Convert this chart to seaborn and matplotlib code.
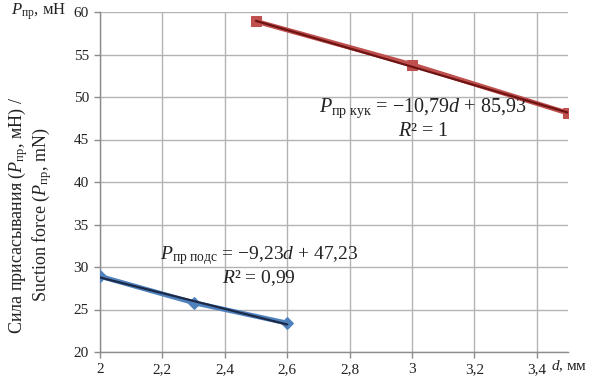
import matplotlib
matplotlib.use("Agg")
import matplotlib.pyplot as plt
import seaborn as sns
import numpy as np
import pandas as pd
from matplotlib.ticker import FuncFormatter

# data
d_pods = [2.0, 2.3, 2.6]
p_pods = [28.9, 25.8, 23.4]
d_kuk = [2.5, 3.0, 3.5]
p_kuk = [58.9, 53.8, 48.1]
trend_pods = (-9.23, 47.23)
trend_kuk = (-10.79, 85.93)
x_ticks = [2.0, 2.2, 2.4, 2.6, 2.8, 3.0, 3.2, 3.4]
y_ticks = [20, 25, 30, 35, 40, 45, 50, 55, 60]

sns.set_theme(style="white")
plt.rcParams['font.family'] = ['Liberation Serif', 'DejaVu Serif']
plt.rcParams['mathtext.fontset'] = 'custom'
plt.rcParams['mathtext.rm'] = 'Liberation Serif'
plt.rcParams['mathtext.it'] = 'Liberation Serif:italic'

fig = plt.figure(figsize=(6.06, 3.8), dpi=100)
ax = fig.add_axes([100/606, 1-352/380, 468/606, 340/380])

df1 = pd.DataFrame({"d": d_pods, "p": p_pods})
df2 = pd.DataFrame({"d": d_kuk, "p": p_kuk})

sns.lineplot(data=df1, x="d", y="p", ax=ax, color="#4F81BD", marker="D",
             markersize=6, markeredgecolor="#4F81BD", linewidth=3.5, zorder=3)
sns.lineplot(data=df2, x="d", y="p", ax=ax, color="#C0504D", marker="s",
             markersize=7, markeredgecolor="#C0504D", linewidth=3.5, zorder=3)

# trend lines
xt1 = np.array([d_pods[0], d_pods[-1]])
ax.plot(xt1, trend_pods[0]*xt1 + trend_pods[1], color="#1c2a48", lw=1.6, zorder=4)
xt2 = np.array([d_kuk[0], d_kuk[-1]])
ax.plot(xt2, trend_kuk[0]*xt2 + trend_kuk[1], color="#6e1414", lw=1.6, zorder=4)

ax.set_xlim(2.0, 3.5)
ax.set_ylim(20, 60)
ax.set_xticks(x_ticks)
ax.set_yticks(y_ticks)
ax.xaxis.set_major_formatter(FuncFormatter(lambda v, p: ("%g" % round(v, 2)).replace(".", ",")))
ax.yaxis.set_major_formatter(FuncFormatter(lambda v, p: "%d" % v))
ax.grid(True, color="#b3b3b3", lw=1.0)
ax.set_axisbelow(True)
for s in ["top", "right"]:
    ax.spines[s].set_visible(False)
for s in ["left", "bottom"]:
    ax.spines[s].set_color("#8c8c8c")
    ax.spines[s].set_linewidth(1.0)
ax.tick_params(axis="both", which="major", length=4, width=1, color="#8c8c8c",
               labelsize=11, labelcolor="#222222", pad=4, direction="out",
               bottom=True, left=True)
ax.set_xlabel("")
ax.set_ylabel("")

# axis name labels
fig.text(66/606, 1-12/380, r"$\mathit{P}_{\mathrm{пр}}$, мН", ha="right", va="center",
         fontsize=12, color="#222222")
fig.text(551/606, 1-366/380, r"$\mathit{d}$, мм", ha="left", va="center",
         fontsize=11, color="#222222")
fig.text(30/606, 1-215/380,
         "Сила присасывания ($\\mathit{P}_{\\mathrm{пр}}$, мН) /\nSuction force ($\\mathit{P}_{\\mathrm{пр}}$, mN)",
         rotation=90, ha="center", va="center", multialignment="center",
         fontsize=13, color="#222222", linespacing=1.0)

# equations
ax.text(3.035, 48.7, r"$\mathit{P}_{\mathrm{пр\ кук}}$ = −10,79$\mathit{d}$ + 85,93",
        ha="center", va="center", fontsize=14.5, color="#222222")
ax.text(3.035, 46.0, r"$\mathit{R}$² = 1", ha="center", va="center",
        fontsize=14.5, color="#222222")
ax.text(2.51, 31.3, r"$\mathit{P}_{\mathrm{пр\ подс}}$ = −9,23$\mathit{d}$ + 47,23",
        ha="center", va="center", fontsize=14, color="#222222")
ax.text(2.51, 28.7, r"$\mathit{R}$² = 0,99", ha="center", va="center",
        fontsize=14, color="#222222")

fig.savefig("out.png", dpi=100, facecolor="white")
